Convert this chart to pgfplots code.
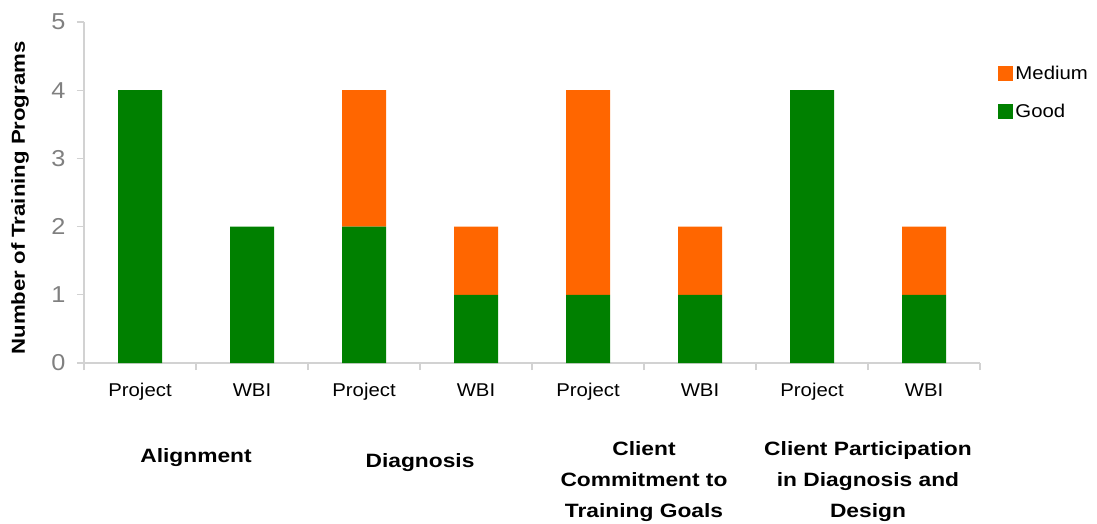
\documentclass[border=0pt]{standalone}
\usepackage{pgfplots}
\pgfplotsset{compat=1.18}
\usepackage{fontspec}
\setmainfont{Liberation Sans}[FakeStretch=1.1, BoldFeatures={FakeStretch=1.18}]
\definecolor{good}{RGB}{0,128,0}
\definecolor{medium}{RGB}{255,102,0}
\definecolor{axisgray}{RGB}{210,210,210}
\definecolor{tickgray}{RGB}{128,128,128}
\begin{document}
\begin{tikzpicture}
\path[use as bounding box] (0,0) rectangle (1097pt,523pt);
\begin{axis}[
  at={(84pt,160pt)}, anchor=south west,
  scale only axis, width=896pt, height=341pt,
  ybar stacked, bar width=44pt,
  xmin=-0.5, xmax=7.5, ymin=0, ymax=5,
  axis x line*=bottom, axis y line*=left,
  axis line style={draw=axisgray, line width=1.2pt, -},
  every tick/.style={draw=axisgray, line width=1.2pt},
  tick align=outside, major tick length=7pt,
  xtick={-0.5,0.5,...,7.5}, x tick label as interval,
  xticklabels={Project,WBI,Project,WBI,Project,WBI,Project,WBI},
  xticklabel style={font=\fontsize{18.5}{22}\selectfont, yshift=-10pt},
  ytick={0,...,5},
  yticklabel style={font=\fontsize{23}{26}\selectfont, text=tickgray,
    /pgf/number format/assume math mode=true, xshift=-8pt},
  ylabel={\bfseries Number of Training Programs},
  ylabel style={at={(axis description cs:-0.0714,0.484)}, anchor=center,
    font=\fontsize{18.8}{22}\selectfont},
  legend cell align=left,
  legend style={at={(axis description cs:1.0204,0.877)}, anchor=north west,
    draw=none, fill=none, font=\fontsize{18.5}{22}\selectfont,
    row sep=19pt, inner sep=0pt,
    nodes={inner sep=2pt},
    /tikz/every even column/.append style={column sep=4pt}},
  legend image code/.code={\fill[#1] (0pt,-7.5pt) rectangle (15pt,7.5pt);},
  clip=false,
]
\addlegendimage{fill=medium, draw=none}
\addlegendentry{Medium}
\addlegendimage{fill=good, draw=none}
\addlegendentry{Good}
\addplot[fill=good, draw=none, forget plot] coordinates {(0,4) (1,2) (2,2) (3,1) (4,1) (5,1) (6,4) (7,1)};
\addplot[fill=medium, draw=none, forget plot] coordinates {(0,0) (1,0) (2,2) (3,1) (4,3) (5,1) (6,0) (7,1)};
\end{axis}
\begin{scope}[font=\fontsize{19.3}{31}\selectfont\bfseries, align=center]
\node at (196pt,65pt) {Alignment};
\node at (420pt,60pt) {Diagnosis};
\node at (644pt,41pt) {Client\\Commitment to\\Training Goals};
\node at (868pt,41pt) {Client Participation\\in Diagnosis and\\Design};
\end{scope}
\end{tikzpicture}
\end{document}
